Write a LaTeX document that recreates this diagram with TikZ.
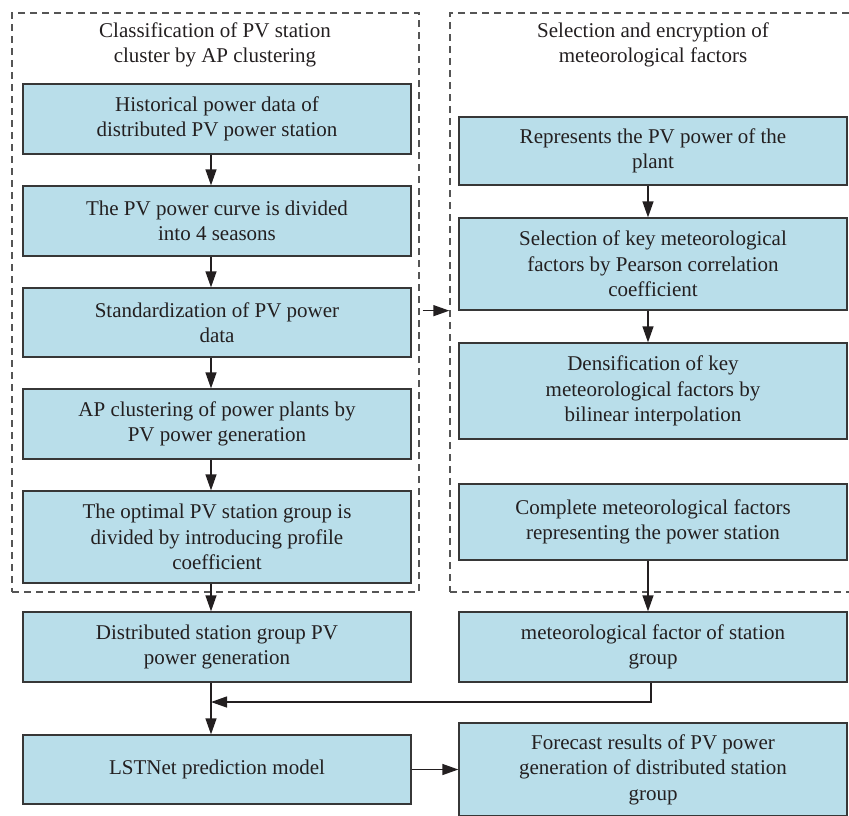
\documentclass[tikz,border=0pt]{standalone}
\usepackage{fontspec}
\setmainfont{Liberation Serif}
\usetikzlibrary{arrows.meta}
\definecolor{boxfill}{RGB}{185,222,234}
\definecolor{boxline}{RGB}{55,55,55}
\definecolor{txt}{RGB}{35,31,32}
\begin{document}
\begin{tikzpicture}[x=1pt,y=-1pt,
  font=\fontsize{21}{25.5}\selectfont,
  procbox/.style={draw=boxline, fill=boxfill, line width=1.3pt, text=txt, align=center,
    minimum width=388pt, inner sep=0pt},
  grp/.style={draw=boxline!85, dash pattern=on 7pt off 5pt, line width=1.3pt, inner sep=0pt},
  ttl/.style={text=txt, align=center},
  conn/.style={draw=txt, line width=1.3pt, -{Triangle[length=16pt,width=11pt]}}]
\useasboundingbox (0,0) rectangle (849,815);
% group frames
\node[grp, minimum width=407pt, minimum height=579pt] (gL) at (215.5,302.5) {};
\node[grp, minimum width=402pt, minimum height=579pt] (gR) at (651,302.5) {};
\node[ttl] (tL) at (215,45) {Classification of PV station\\cluster by AP clustering};
\node[ttl] (tR) at (653,45) {Selection and encryption of\\meteorological factors};
% left column
\node[procbox, minimum height=70pt] (b1) at (217,119) {Historical power data of\\distributed PV power station};
\node[procbox, minimum height=70pt] (b2) at (217,221) {The PV power curve is divided\\into 4 seasons};
\node[procbox, minimum height=69pt] (b3) at (217,322.5) {Standardization of PV power\\data};
\node[procbox, minimum height=70pt] (b4) at (217,424) {AP clustering of power plants by\\PV power generation};
\node[procbox, minimum height=92pt] (b5) at (217,537) {The optimal PV station group is\\divided by introducing profile\\coefficient};
\node[procbox, minimum height=70pt] (b6) at (217,647) {Distributed station group PV\\power generation};
\node[procbox, minimum height=69pt] (b7) at (217,769.5) {LSTNet prediction model};
% right column
\node[procbox, minimum height=68pt] (r1) at (653,151) {Represents the PV power of the\\plant};
\node[procbox, minimum height=92pt] (r2) at (653,264) {Selection of key meteorological\\factors by Pearson correlation\\coefficient};
\node[procbox, minimum height=96pt] (r3) at (653,391) {Densification of key\\meteorological factors by\\bilinear interpolation};
\node[procbox, minimum height=76pt] (r4) at (653,522) {Complete meteorological factors\\representing the power station};
\node[procbox, minimum height=70pt] (r5) at (653,647) {meteorological factor of station\\group};
\node[procbox, minimum height=93pt] (r6) at (653,769.5) {Forecast results of PV power\\generation of distributed station\\group};
% helper coordinates
\coordinate (cl) at (211,0);
\coordinate (cr) at (648,0);
\coordinate (cm) at (651,0);
\coordinate (m) at (211,702);
% connectors
\draw[conn] (b1.south -| cl) -- (b2.north -| cl);
\draw[conn] (b2.south -| cl) -- (b3.north -| cl);
\draw[conn] (b3.south -| cl) -- (b4.north -| cl);
\draw[conn] (b4.south -| cl) -- (b5.north -| cl);
\draw[conn] (b5.south -| cl) -- (b6.north -| cl);
\draw[conn] (b6.south -| cl) -- (b7.north -| cl);
\draw[conn] (r1.south -| cr) -- (r2.north -| cr);
\draw[conn] (r2.south -| cr) -- (r3.north -| cr);
\draw[conn] (r4.south -| cr) -- (r5.north -| cr);
\draw[conn] (r5.south -| cm) |- (m);
\draw[conn] (b7.east) -- (r6.west |- b7.east);
\draw[conn] ([xshift=3pt]gL.east |- r2.south) -- (gR.west |- r2.south);
\end{tikzpicture}
\end{document}
